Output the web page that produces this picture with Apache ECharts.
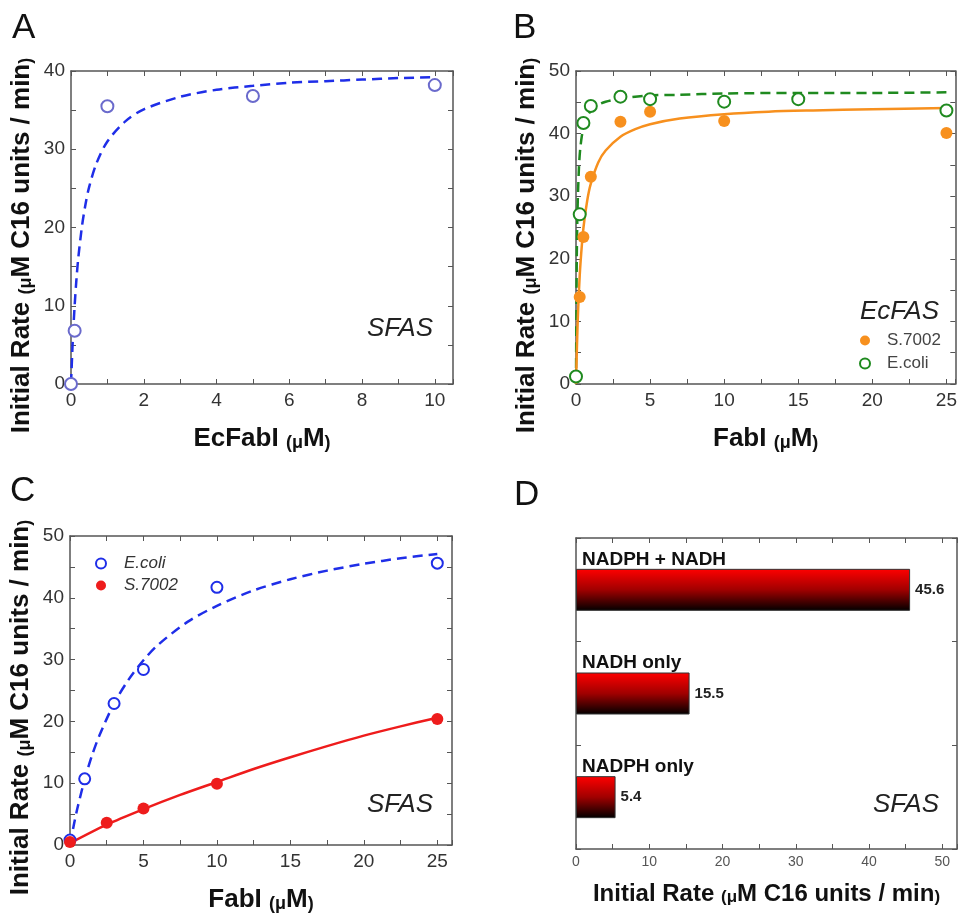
<!DOCTYPE html>
<html>
<head>
<meta charset="utf-8">
<script src="https://cdn.jsdelivr.net/npm/echarts@6/dist/echarts.min.js"></script>
<style>
html, body { margin: 0; padding: 0; background: #fff; }
#fig { width: 960px; height: 914px; }
</style>
</head>
<body>
<div id="fig"></div>
<script>
// A: SFAS + EcFabI
const aX = [0, 0.1, 1, 5, 10];
const aRate = [0, 6.8, 35.5, 36.8, 38.2];
const aFitX = [0, 0.05, 0.1, 0.15, 0.2, 0.3, 0.4, 0.5, 0.7, 1, 1.5, 2, 3, 4, 5, 6, 7, 8, 9, 10];
const aFitY = [0, 5.7, 10.0, 13.4, 16.1, 20.1, 23.0, 25.2, 28.2, 31.0, 33.6, 35.1, 36.7, 37.6, 38.1, 38.5, 38.7, 38.9, 39.1, 39.2];

// B: EcFAS + FabI
const bS7002X = [0.25, 0.5, 1, 3, 5, 10, 25];
const bS7002 = [13.9, 23.5, 33.1, 41.9, 43.5, 42.0, 40.1];
const bEcoliX = [0, 0.25, 0.5, 1, 3, 5, 10, 15, 25];
const bEcoli = [1.2, 27.1, 41.7, 44.4, 45.9, 45.5, 45.1, 45.5, 43.7];
const bS7002FitX = [0, 0.1, 0.2, 0.3, 0.5, 0.75, 1, 1.5, 2, 3, 4, 5, 7, 10, 13, 16, 20, 25];
const bS7002FitY = [0, 9.0, 14.9, 19.2, 24.9, 29.2, 32.0, 35.4, 37.3, 39.5, 40.7, 41.5, 42.4, 43.1, 43.5, 43.7, 43.9, 44.1];
const bEcoliFitX = [0, 0.05, 0.1, 0.2, 0.3, 0.5, 0.75, 1, 1.5, 2, 3, 5, 7, 10, 15, 20, 25];
const bEcoliFitY = [0, 19.5, 27.5, 34.6, 37.9, 41.0, 42.7, 43.6, 44.6, 45.1, 45.6, 46.1, 46.2, 46.4, 46.5, 46.5, 46.6];

// C: SFAS + FabI
const cEcoliX = [0, 1, 3, 5, 10, 25];
const cEcoli = [0.8, 10.7, 22.9, 28.4, 41.7, 45.6];
const cS7002X = [0, 2.5, 5, 10, 25];
const cS7002 = [0.5, 3.6, 5.9, 9.9, 20.4];
const cEcoliFitX = [0, 0.25, 0.5, 1, 1.5, 2, 3, 4, 5, 6, 8, 10, 12.5, 15, 17.5, 20, 22.5, 25];
const cEcoliFitY = [0, 3.1, 5.9, 10.6, 14.5, 17.7, 22.9, 26.8, 29.9, 32.4, 36.1, 38.7, 41.2, 43.0, 44.4, 45.5, 46.4, 47.1];
const cS7002FitX = [0, 2.5, 5, 7.5, 10, 12.5, 15, 17.5, 20, 22.5, 25];
const cS7002FitY = [0.3, 3.3, 5.8, 8.1, 10.2, 12.3, 14.2, 16.0, 17.7, 19.2, 20.6];

// D: cofactors
const dCats = ['NADPH only', 'NADH only', 'NADPH + NADH'];
const dRate = [5.4, 15.5, 45.6];

const FONT = "'Liberation Sans', Arial, sans-serif";
const AXC = '#555';
const pair = (xs, ys) => xs.map((x, i) => [x, ys[i]]);

function valAxis(grid, pos, min, max, step, every, labels, lab) {
    return {
        type: 'value', gridIndex: grid, position: pos, min: min, max: max, interval: step,
        axisLine: { show: true, onZero: false, lineStyle: { color: AXC, width: 1.5 } },
        axisTick: { show: true, inside: true, length: 5, lineStyle: { color: AXC, width: 1 } },
        splitLine: { show: false },
        axisLabel: Object.assign({
            show: labels, fontFamily: FONT, fontSize: 19, color: '#333', margin: 7,
            formatter: v => (Math.abs(v % every) < 1e-9 ? String(v) : '')
        }, lab || {})
    };
}

function rich(big, small) {
    return {
        b: { fontSize: big, fontWeight: 'bold', fontFamily: FONT, color: '#111', verticalAlign: 'bottom' },
        s: { fontSize: small, fontWeight: 'bold', fontFamily: FONT, color: '#111', verticalAlign: 'bottom' }
    };
}
const yName = '{b|Initial Rate }{s|(μ}{b|M C16 units / min}{s|)}';
function withName(ax, name, gap, big, small, pad) {
    return Object.assign(ax, {
        name: name, nameLocation: 'middle', nameGap: gap,
        nameTextStyle: { rich: rich(big, small), padding: pad || 0 }
    });
}

const xAxes = [
    withName(valAxis(0, 'bottom', 0, 10.5, 1, 2, true), '{b|EcFabI }{s|(μ}{b|M}{s|)}', 42, 26, 18),
    withName(valAxis(1, 'bottom', 0, 25.6, 2.5, 5, true), '{b|FabI }{s|(μ}{b|M}{s|)}', 42, 26, 18),
    withName(valAxis(2, 'bottom', 0, 26, 2.5, 5, true), '{b|FabI }{s|(μ}{b|M}{s|)}', 42, 26, 18),
    withName(valAxis(3, 'bottom', 0, 52, 5, 10, true, { fontSize: 14, color: '#555', margin: 6 }), yName, 33, 24, 17),
    valAxis(0, 'top', 0, 10.5, 1, 2, false),
    valAxis(1, 'top', 0, 25.6, 2.5, 5, false),
    valAxis(2, 'top', 0, 26, 2.5, 5, false),
    valAxis(3, 'top', 0, 52, 5, 10, false)
];

function catAxis(pos, labels) {
    return {
        type: 'category', gridIndex: 3, position: pos, data: dCats,
        axisLine: { show: true, onZero: false, lineStyle: { color: AXC, width: 1.5 } },
        axisTick: { show: true, inside: true, length: 5, lineStyle: { color: AXC } },
        splitLine: { show: false },
        axisLabel: {
            show: labels, inside: true, align: 'left', verticalAlign: 'bottom', margin: 6,
            padding: [0, 0, 21, 0], fontFamily: FONT, fontSize: 19, fontWeight: 'bold', color: '#111'
        }
    };
}

const yAxes = [
    withName(valAxis(0, 'left', 0, 40, 5, 10, true, { margin: 6 }), yName, 36, 26, 18, [0, 36, 0, 0]),
    withName(valAxis(1, 'left', 0, 50, 5, 10, true, { margin: 6 }), yName, 36, 26, 18, [0, 36, 0, 0]),
    withName(valAxis(2, 'left', 0, 50, 5, 10, true, { margin: 6 }), yName, 36, 26, 18, [0, 34, 0, 0]),
    catAxis('left', true),
    valAxis(0, 'right', 0, 40, 5, 10, false),
    valAxis(1, 'right', 0, 50, 5, 10, false),
    valAxis(2, 'right', 0, 50, 5, 10, false),
    catAxis('right', false)
];

function fit(xi, data, color, dashed) {
    return {
        type: 'line', xAxisIndex: xi, yAxisIndex: xi, data: data, showSymbol: false, smooth: 0.3,
        lineStyle: { color: color, width: 2.5, type: dashed ? [10, 6] : 'solid' },
        silent: true, z: 2
    };
}
function dots(name, xi, data, color, open, size) {
    return {
        name: name, type: 'scatter', xAxisIndex: xi, yAxisIndex: xi, data: data, clip: false,
        symbol: open ? 'emptyCircle' : 'circle', symbolSize: size,
        itemStyle: { color: color, borderWidth: open ? 1.6 : 0, opacity: 1 }, z: 3
    };
}

const chart = echarts.init(document.getElementById('fig'), null, { renderer: 'canvas' });
chart.setOption({
    backgroundColor: '#fff',
    animation: false,
    textStyle: { fontFamily: FONT },
    grid: [
        { left: 71, top: 71, width: 382, height: 313 },
        { left: 576, top: 71, width: 382, height: 313 },
        { left: 70, top: 536, width: 382, height: 312 },
        { left: 576, top: 538, width: 382, height: 311 }
    ],
    xAxis: xAxes,
    yAxis: yAxes,
    legend: [
        {
            data: ['B S.7002', 'B E.coli'], orient: 'vertical', left: 859, top: 332, padding: 0,
            itemWidth: 10, itemHeight: 10, itemGap: 6, selectedMode: false,
            formatter: n => n.slice(2),
            textStyle: { fontFamily: FONT, fontSize: 17, color: '#444', padding: [0, 0, 0, 12] }
        },
        {
            data: ['C E.coli', 'C S.7002'], orient: 'vertical', left: 95, top: 555, padding: 0,
            itemWidth: 10, itemHeight: 10, itemGap: 5, selectedMode: false,
            formatter: n => n.slice(2),
            textStyle: { fontFamily: FONT, fontSize: 17, fontStyle: 'italic', color: '#333', padding: [0, 0, 0, 13] }
        }
    ],
    graphic: [
        { type: 'text', left: 12, top: 11, style: { text: 'A', font: '35px ' + FONT, fill: '#111' } },
        { type: 'text', left: 513, top: 11, style: { text: 'B', font: '35px ' + FONT, fill: '#111' } },
        { type: 'text', left: 10, top: 474, style: { text: 'C', font: '35px ' + FONT, fill: '#111' } },
        { type: 'text', left: 514, top: 478, style: { text: 'D', font: '35px ' + FONT, fill: '#111' } },
        { type: 'text', left: 367, top: 316, style: { text: 'SFAS', font: 'italic 26px ' + FONT, fill: '#222' } },
        { type: 'text', left: 860, top: 299, style: { text: 'EcFAS', font: 'italic 26px ' + FONT, fill: '#222' } },
        { type: 'text', left: 367, top: 792, style: { text: 'SFAS', font: 'italic 26px ' + FONT, fill: '#222' } },
        { type: 'text', left: 873, top: 792, style: { text: 'SFAS', font: 'italic 26px ' + FONT, fill: '#222' } }
    ],
    series: [
        fit(0, pair(aFitX, aFitY), '#1f2ee8', true),
        dots('A SFAS', 0, pair(aX, aRate), '#6a6acc', true, 12),
        fit(1, pair(bEcoliFitX, bEcoliFitY), '#1f8a1f', true),
        fit(1, pair(bS7002FitX, bS7002FitY), '#f7901e', false),
        dots('B S.7002', 1, pair(bS7002X, bS7002), '#f7901e', false, 12),
        dots('B E.coli', 1, pair(bEcoliX, bEcoli), '#1f8a1f', true, 12),
        fit(2, pair(cEcoliFitX, cEcoliFitY), '#1f2ee8', true),
        fit(2, pair(cS7002FitX, cS7002FitY), '#ee1c1c', false),
        dots('C E.coli', 2, pair(cEcoliX, cEcoli), '#1f2ee8', true, 11),
        dots('C S.7002', 2, pair(cS7002X, cS7002), '#ee1c1c', false, 12),
        {
            name: 'D rate', type: 'bar', xAxisIndex: 3, yAxisIndex: 3, data: dRate, barWidth: 42,
            itemStyle: {
                color: new echarts.graphic.LinearGradient(0, 0, 0, 1, [
                    { offset: 0, color: '#ff0000' },
                    { offset: 0.5, color: '#a00000' },
                    { offset: 1, color: '#000000' }
                ]),
                borderColor: '#333', borderWidth: 1
            },
            label: {
                show: true, position: 'right', distance: 5, fontFamily: FONT,
                fontSize: 15, fontWeight: 'bold', color: '#222'
            }
        }
    ]
});
</script>
</body>
</html>
